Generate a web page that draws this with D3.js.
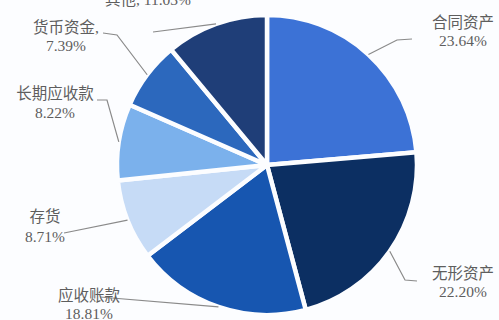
<!DOCTYPE html>
<html>
<head>
<meta charset="utf-8">
<script src="https://cdn.jsdelivr.net/npm/d3@7"></script>
<style>
  html, body { margin: 0; padding: 0; background: #fcfdff; }
  svg { display: block; }
  .lbl { font-family: "Liberation Serif", "DejaVu Serif", "Noto Sans CJK SC", serif; font-size: 15.5px; fill: #5e5e5e; }
  .leader { fill: none; stroke: #8a8a8a; stroke-width: 1.2; }
</style>
</head>
<body>
<svg id="chart" width="499" height="320"></svg>
<script>
  // slice data, clockwise from 12 o'clock
  const names = ['合同资产', '无形资产', '应收账款', '存货', '长期应收款', '货币资金', '其他'];
  const shares = [23.64, 22.20, 18.81, 8.71, 8.22, 7.39, 11.03];
  const colors = ['#3c72d6', '#0c2f62', '#1756b0', '#c6dbf6', '#7bb1ec', '#2c68bd', '#1f3e78'];

  // label layout: [x, first-line baseline, second-line baseline or null]
  const labelPos = [
    [463, 28, 46],
    [463, 279, 297],
    [89, 301, 319],
    [45, 222, 242],
    [55, 99, 118],
    [66, 33, 51],
    [148, 5, null]
  ];
  // leader elbows, from label side toward the pie edge
  const elbows = [
    [[412, 39], [397, 40]],
    [[417, 281], [405, 280]],
    [[100, 297]],
    [[64, 233]],
    [[97, 100], [107, 100]],
    [[103, 33], [117, 35]],
    [[153, 32]]
  ];

  const cx = 267, cy = 165, R = 150;
  const svg = d3.select('#chart');
  const g = svg.append('g').attr('transform', 'translate(' + cx + ',' + cy + ')');

  const pie = d3.pie().sort(null).value(d => d)(shares);
  const arc = d3.arc().innerRadius(0).outerRadius(R);
  const edge = d3.arc().innerRadius(R).outerRadius(R);

  g.selectAll('path.slice')
    .data(pie)
    .join('path')
    .attr('class', 'slice')
    .attr('d', arc)
    .attr('fill', (d, i) => colors[i])
    .attr('stroke', '#fcfdff')
    .attr('stroke-width', 4.5)
    .attr('stroke-linejoin', 'round');

  // leader lines: elbows then the point on the rim at the slice mid-angle
  const line = d3.line();
  svg.selectAll('path.leader')
    .data(pie)
    .join('path')
    .attr('class', 'leader')
    .attr('d', (d, i) => {
      const c = edge.centroid(d);
      return line(elbows[i].concat([[cx + c[0], cy + c[1]]]));
    });

  const fmt = v => v.toFixed(2) + '%';
  const lbl = svg.selectAll('text.lbl')
    .data(pie)
    .join('text')
    .attr('class', 'lbl')
    .attr('text-anchor', 'middle');
  lbl.each(function (d, i) {
    const t = d3.select(this);
    const p = labelPos[i];
    if (p[2] === null) {
      t.append('tspan').attr('x', p[0]).attr('y', p[1]).text(names[i] + ', ' + fmt(shares[i]));
    } else {
      const head = names[i] === '货币资金' ? names[i] + ',' : names[i];
      t.append('tspan').attr('x', p[0]).attr('y', p[1]).text(head);
      t.append('tspan').attr('x', p[0]).attr('y', p[2]).text(fmt(shares[i]));
    }
  });
</script>
</body>
</html>
